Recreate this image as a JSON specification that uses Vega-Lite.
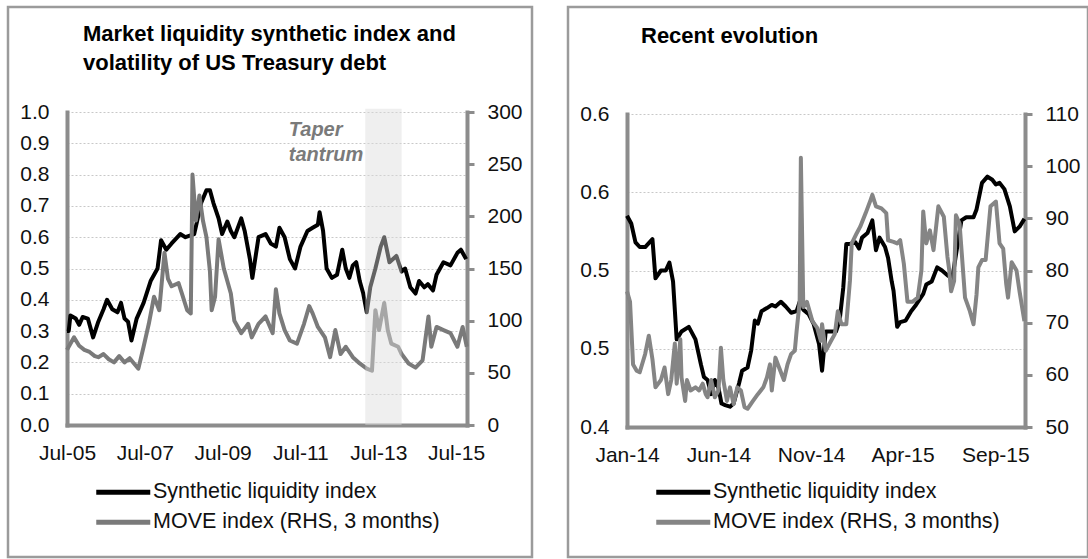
{
  "$schema": "https://vega.github.io/schema/vega-lite/v6.json",
  "padding": {"left": 6, "top": 5, "right": 1, "bottom": 3},
  "spacing": 32,
  "config": {
    "font": "Liberation Sans",
    "view": {"stroke": "#9b9b9b", "strokeWidth": 2.5},
    "axis": {"labelFont": "Liberation Sans", "labelFontSize": 21, "labelColor": "#111111", "domainColor": "#8c8c8c", "domainWidth": 4, "tickColor": "#8c8c8c", "tickWidth": 3, "labelFlush": false, "labelOverlap": false, "labelBound": false, "domainCap": "square", "grid": false},
    "legend": {"labelFont": "Liberation Sans", "labelFontSize": 21.5, "labelColor": "#111111", "labelLimit": 500, "padding": 0}
  },
  "resolve": {"scale": {"color": "independent"}, "legend": {"color": "independent"}},
  "datasets": {
    "liqL": [
      {"d":"2005-07-01","v":0.30},{"d":"2005-07-17","v":0.30},{"d":"2005-08-02","v":0.35},{"d":"2005-09-21","v":0.34},{"d":"2005-10-23","v":0.32},{"d":"2005-11-25","v":0.345},{"d":"2006-01-13","v":0.34},{"d":"2006-03-03","v":0.28},{"d":"2006-04-21","v":0.33},{"d":"2006-06-09","v":0.37},{"d":"2006-07-12","v":0.40},{"d":"2006-08-30","v":0.37},{"d":"2006-10-18","v":0.36},{"d":"2006-11-20","v":0.39},{"d":"2006-12-23","v":0.34},{"d":"2007-01-25","v":0.33},{"d":"2007-02-26","v":0.27},{"d":"2007-04-16","v":0.34},{"d":"2007-06-20","v":0.39},{"d":"2007-08-25","v":0.46},{"d":"2007-10-29","v":0.50},{"d":"2007-12-01","v":0.59},{"d":"2008-01-19","v":0.56},{"d":"2008-03-09","v":0.58},{"d":"2008-05-29","v":0.61},{"d":"2008-07-17","v":0.60},{"d":"2008-10-07","v":0.61},{"d":"2008-12-12","v":0.71},{"d":"2009-01-30","v":0.75},{"d":"2009-03-04","v":0.75},{"d":"2009-04-05","v":0.71},{"d":"2009-05-24","v":0.66},{"d":"2009-06-26","v":0.61},{"d":"2009-08-14","v":0.65},{"d":"2009-09-16","v":0.62},{"d":"2009-10-19","v":0.60},{"d":"2009-12-23","v":0.66},{"d":"2010-01-24","v":0.62},{"d":"2010-03-14","v":0.53},{"d":"2010-04-06","v":0.47},{"d":"2010-06-03","v":0.60},{"d":"2010-08-08","v":0.61},{"d":"2010-09-26","v":0.58},{"d":"2010-11-13","v":0.57},{"d":"2010-12-16","v":0.63},{"d":"2011-02-03","v":0.60},{"d":"2011-03-24","v":0.53},{"d":"2011-05-12","v":0.50},{"d":"2011-07-02","v":0.57},{"d":"2011-09-05","v":0.62},{"d":"2011-10-24","v":0.63},{"d":"2011-12-12","v":0.64},{"d":"2011-12-28","v":0.68},{"d":"2012-01-30","v":0.62},{"d":"2012-03-03","v":0.50},{"d":"2012-04-21","v":0.47},{"d":"2012-06-09","v":0.48},{"d":"2012-07-28","v":0.56},{"d":"2012-08-30","v":0.50},{"d":"2012-10-02","v":0.47},{"d":"2012-11-04","v":0.51},{"d":"2012-12-06","v":0.52},{"d":"2013-01-08","v":0.46},{"d":"2013-02-10","v":0.42},{"d":"2013-03-15","v":0.36},{"d":"2013-04-17","v":0.44},{"d":"2013-06-04","v":0.50},{"d":"2013-07-24","v":0.57},{"d":"2013-08-26","v":0.60},{"d":"2013-10-14","v":0.52},{"d":"2013-12-18","v":0.54},{"d":"2014-02-05","v":0.49},{"d":"2014-03-10","v":0.50},{"d":"2014-04-28","v":0.44},{"d":"2014-06-16","v":0.42},{"d":"2014-07-19","v":0.46},{"d":"2014-09-06","v":0.44},{"d":"2014-10-09","v":0.45},{"d":"2014-11-27","v":0.43},{"d":"2014-12-30","v":0.48},{"d":"2015-03-05","v":0.52},{"d":"2015-05-10","v":0.51},{"d":"2015-07-14","v":0.55},{"d":"2015-08-16","v":0.56},{"d":"2015-10-04","v":0.53}
    ],
    "moveL": [
      {"d":"2005-07-01","m":72},{"d":"2005-07-17","m":75},{"d":"2005-09-05","m":84},{"d":"2005-10-23","m":76},{"d":"2005-12-11","m":72},{"d":"2006-01-29","m":70},{"d":"2006-03-19","m":66},{"d":"2006-04-21","m":65},{"d":"2006-06-09","m":68},{"d":"2006-07-28","m":63},{"d":"2006-09-15","m":60},{"d":"2006-11-03","m":66},{"d":"2006-12-23","m":60},{"d":"2007-02-09","m":64},{"d":"2007-03-30","m":58},{"d":"2007-05-02","m":54},{"d":"2007-06-20","m":75},{"d":"2007-08-08","m":97},{"d":"2007-09-26","m":123},{"d":"2007-11-14","m":110},{"d":"2008-01-02","m":165},{"d":"2008-02-04","m":140},{"d":"2008-03-09","m":133},{"d":"2008-05-13","m":136},{"d":"2008-06-14","m":126},{"d":"2008-08-02","m":110},{"d":"2008-09-05","m":107},{"d":"2008-09-21","m":240},{"d":"2008-10-23","m":196},{"d":"2008-11-25","m":220},{"d":"2008-12-28","m":196},{"d":"2009-01-30","m":180},{"d":"2009-03-04","m":147},{"d":"2009-03-20","m":110},{"d":"2009-04-21","m":123},{"d":"2009-05-24","m":178},{"d":"2009-07-12","m":150},{"d":"2009-09-16","m":126},{"d":"2009-10-19","m":100},{"d":"2009-12-23","m":88},{"d":"2010-02-26","m":97},{"d":"2010-03-31","m":84},{"d":"2010-06-03","m":97},{"d":"2010-08-08","m":104},{"d":"2010-10-14","m":88},{"d":"2010-11-13","m":130},{"d":"2010-12-16","m":107},{"d":"2011-02-03","m":91},{"d":"2011-03-24","m":81},{"d":"2011-05-30","m":78},{"d":"2011-08-04","m":97},{"d":"2011-09-22","m":114},{"d":"2011-10-24","m":107},{"d":"2011-12-12","m":94},{"d":"2012-02-16","m":84},{"d":"2012-04-05","m":65},{"d":"2012-05-24","m":91},{"d":"2012-07-12","m":68},{"d":"2012-08-30","m":75},{"d":"2012-11-04","m":65},{"d":"2013-01-08","m":59},{"d":"2013-03-15","m":54},{"d":"2013-05-03","m":52},{"d":"2013-06-04","m":110},{"d":"2013-07-08","m":91},{"d":"2013-08-26","m":117},{"d":"2013-09-28","m":91},{"d":"2013-10-31","m":78},{"d":"2014-01-04","m":75},{"d":"2014-02-05","m":68},{"d":"2014-04-12","m":59},{"d":"2014-06-16","m":55},{"d":"2014-08-21","m":62},{"d":"2014-10-15","m":104},{"d":"2014-11-11","m":75},{"d":"2014-12-30","m":94},{"d":"2015-03-05","m":91},{"d":"2015-05-10","m":88},{"d":"2015-07-14","m":75},{"d":"2015-09-01","m":94},{"d":"2015-10-10","m":75}
    ],
    "band": [{"s":"2013-03-01","e":"2014-02-05"}],
    "note": [{"d":"2011-03-14","v":0.942,"t":"Taper"},{"d":"2011-03-14","v":0.863,"t":"tantrum"}],
    "liqR": [
      {"d":"2014-01-01","v":0.535},{"d":"2014-01-08","v":0.53},{"d":"2014-01-15","v":0.518},{"d":"2014-01-22","v":0.515},{"d":"2014-01-31","v":0.515},{"d":"2014-02-12","v":0.52},{"d":"2014-02-17","v":0.495},{"d":"2014-02-26","v":0.50},{"d":"2014-03-06","v":0.50},{"d":"2014-03-12","v":0.505},{"d":"2014-03-18","v":0.493},{"d":"2014-03-24","v":0.456},{"d":"2014-04-01","v":0.461},{"d":"2014-04-13","v":0.464},{"d":"2014-04-24","v":0.456},{"d":"2014-05-03","v":0.44},{"d":"2014-05-08","v":0.432},{"d":"2014-05-14","v":0.43},{"d":"2014-05-20","v":0.421},{"d":"2014-05-26","v":0.43},{"d":"2014-06-01","v":0.425},{"d":"2014-06-06","v":0.415},{"d":"2014-06-12","v":0.414},{"d":"2014-06-20","v":0.413},{"d":"2014-06-26","v":0.415},{"d":"2014-07-05","v":0.428},{"d":"2014-07-10","v":0.436},{"d":"2014-07-19","v":0.438},{"d":"2014-07-25","v":0.449},{"d":"2014-07-31","v":0.468},{"d":"2014-08-05","v":0.466},{"d":"2014-08-11","v":0.474},{"d":"2014-08-20","v":0.476},{"d":"2014-08-28","v":0.478},{"d":"2014-09-03","v":0.477},{"d":"2014-09-12","v":0.48},{"d":"2014-09-20","v":0.477},{"d":"2014-09-29","v":0.473},{"d":"2014-10-08","v":0.474},{"d":"2014-10-13","v":0.48},{"d":"2014-10-19","v":0.475},{"d":"2014-10-28","v":0.472},{"d":"2014-11-05","v":0.466},{"d":"2014-11-14","v":0.453},{"d":"2014-11-19","v":0.436},{"d":"2014-11-25","v":0.461},{"d":"2014-12-04","v":0.461},{"d":"2014-12-12","v":0.461},{"d":"2014-12-18","v":0.468},{"d":"2014-12-24","v":0.489},{"d":"2014-12-29","v":0.517},{"d":"2015-01-04","v":0.517},{"d":"2015-01-13","v":0.518},{"d":"2015-01-19","v":0.514},{"d":"2015-01-24","v":0.521},{"d":"2015-02-02","v":0.524},{"d":"2015-02-10","v":0.532},{"d":"2015-02-16","v":0.513},{"d":"2015-02-22","v":0.521},{"d":"2015-03-03","v":0.515},{"d":"2015-03-08","v":0.508},{"d":"2015-03-14","v":0.493},{"d":"2015-03-17","v":0.487},{"d":"2015-03-23","v":0.464},{"d":"2015-03-28","v":0.467},{"d":"2015-04-06","v":0.468},{"d":"2015-04-15","v":0.474},{"d":"2015-04-23","v":0.478},{"d":"2015-05-05","v":0.485},{"d":"2015-05-10","v":0.491},{"d":"2015-05-19","v":0.493},{"d":"2015-05-28","v":0.502},{"d":"2015-06-05","v":0.50},{"d":"2015-06-14","v":0.497},{"d":"2015-06-22","v":0.495},{"d":"2015-06-28","v":0.51},{"d":"2015-07-07","v":0.532},{"d":"2015-07-15","v":0.534},{"d":"2015-07-27","v":0.534},{"d":"2015-08-01","v":0.539},{"d":"2015-08-10","v":0.556},{"d":"2015-08-19","v":0.56},{"d":"2015-08-27","v":0.558},{"d":"2015-09-02","v":0.555},{"d":"2015-09-08","v":0.556},{"d":"2015-09-16","v":0.552},{"d":"2015-09-25","v":0.541},{"d":"2015-10-03","v":0.525},{"d":"2015-10-11","v":0.528},{"d":"2015-10-19","v":0.533}
    ],
    "moveR": [
      {"d":"2014-01-01","m":76},{"d":"2014-01-06","m":74},{"d":"2014-01-11","m":62},{"d":"2014-01-17","m":60.8},{"d":"2014-01-22","m":60.5},{"d":"2014-01-31","m":64},{"d":"2014-02-06","m":67.5},{"d":"2014-02-12","m":63},{"d":"2014-02-17","m":57.6},{"d":"2014-02-26","m":59},{"d":"2014-03-04","m":61.4},{"d":"2014-03-10","m":56.3},{"d":"2014-03-15","m":59},{"d":"2014-03-21","m":66},{"d":"2014-03-24","m":58.3},{"d":"2014-03-30","m":66.8},{"d":"2014-04-01","m":59.5},{"d":"2014-04-07","m":55},{"d":"2014-04-10","m":59},{"d":"2014-04-16","m":57},{"d":"2014-04-24","m":57.6},{"d":"2014-04-30","m":57},{"d":"2014-05-06","m":58.3},{"d":"2014-05-11","m":56.3},{"d":"2014-05-14","m":55.7},{"d":"2014-05-20","m":59},{"d":"2014-05-26","m":55.7},{"d":"2014-06-01","m":57},{"d":"2014-06-05","m":65.2},{"d":"2014-06-09","m":59},{"d":"2014-06-15","m":55},{"d":"2014-06-20","m":57.6},{"d":"2014-06-26","m":54.4},{"d":"2014-07-02","m":57.6},{"d":"2014-07-08","m":57},{"d":"2014-07-14","m":53.8},{"d":"2014-07-19","m":53.5},{"d":"2014-07-28","m":55},{"d":"2014-08-05","m":56.3},{"d":"2014-08-14","m":57.6},{"d":"2014-08-20","m":59.5},{"d":"2014-08-25","m":62},{"d":"2014-08-28","m":57},{"d":"2014-09-03","m":63.3},{"d":"2014-09-09","m":61.4},{"d":"2014-09-17","m":59},{"d":"2014-09-23","m":62},{"d":"2014-09-29","m":64},{"d":"2014-10-05","m":64.6},{"d":"2014-10-08","m":68.4},{"d":"2014-10-13","m":74},{"d":"2014-10-15","m":101.6},{"d":"2014-10-19","m":73},{"d":"2014-10-25","m":74},{"d":"2014-11-03","m":70.3},{"d":"2014-11-11","m":69},{"d":"2014-11-17","m":66.5},{"d":"2014-11-19","m":69.7},{"d":"2014-11-25","m":64.6},{"d":"2014-12-01","m":65.9},{"d":"2014-12-10","m":67.8},{"d":"2014-12-15","m":72.2},{"d":"2014-12-21","m":69.7},{"d":"2014-12-29","m":69.7},{"d":"2015-01-04","m":78},{"d":"2015-01-07","m":85.2},{"d":"2015-01-15","m":87.1},{"d":"2015-01-21","m":88.4},{"d":"2015-01-30","m":91},{"d":"2015-02-07","m":93.5},{"d":"2015-02-10","m":94.5},{"d":"2015-02-16","m":92.3},{"d":"2015-02-25","m":91.9},{"d":"2015-03-05","m":91},{"d":"2015-03-08","m":85.8},{"d":"2015-03-17","m":85.5},{"d":"2015-03-23","m":85.2},{"d":"2015-03-28","m":85.8},{"d":"2015-04-03","m":81.3},{"d":"2015-04-09","m":74},{"d":"2015-04-17","m":74},{"d":"2015-04-26","m":74.8},{"d":"2015-05-02","m":80},{"d":"2015-05-05","m":91.3},{"d":"2015-05-10","m":85.2},{"d":"2015-05-16","m":87.7},{"d":"2015-05-22","m":83.9},{"d":"2015-05-30","m":92.3},{"d":"2015-06-08","m":90.3},{"d":"2015-06-14","m":82.6},{"d":"2015-06-17","m":80},{"d":"2015-06-20","m":76},{"d":"2015-06-25","m":78},{"d":"2015-06-28","m":90.6},{"d":"2015-07-04","m":89},{"d":"2015-07-13","m":74.8},{"d":"2015-07-21","m":72.2},{"d":"2015-07-27","m":69.7},{"d":"2015-08-01","m":75.4},{"d":"2015-08-04","m":80.6},{"d":"2015-08-10","m":82},{"d":"2015-08-16","m":82},{"d":"2015-08-24","m":92.3},{"d":"2015-09-02","m":93.2},{"d":"2015-09-08","m":85.2},{"d":"2015-09-14","m":84.2},{"d":"2015-09-19","m":77.4},{"d":"2015-09-22","m":74.8},{"d":"2015-09-28","m":81.6},{"d":"2015-10-06","m":80},{"d":"2015-10-11","m":76},{"d":"2015-10-19","m":70.3}
    ]
  },
  "hconcat": [
    {
      "width": 524,
      "height": 550,
      "title": {"text": ["Market liquidity synthetic index and", "volatility of US Treasury debt"], "anchor": "start", "frame": "group", "orient": "top", "dx": 75, "offset": -68, "fontSize": 22, "fontWeight": "bold", "font": "Liberation Sans", "lineHeight": 29, "baseline": "top", "color": "#000000"},
      "resolve": {"scale": {"y": "independent"}},
      "layer": [
        {
          "layer": [
            {
              "data": {"name": "liqL"},
              "mark": {"type": "line", "strokeWidth": 4, "strokeJoin": "round"},
              "encoding": {
                "x": {"field": "d", "type": "temporal",
                  "scale": {"type": "utc", "domain": [{"year": 2005, "month": 7, "date": 1, "utc": true}, {"year": 2015, "month": 10, "date": 12, "utc": true}], "range": [59, 459], "nice": false},
                  "axis": {"orient": "bottom", "offset": -132, "title": null, "ticks": false, "labelPadding": 17, "format": "%b-%y",
                    "values": [{"year": 2005, "month": 7, "date": 1, "utc": true}, {"year": 2007, "month": 7, "date": 1, "utc": true}, {"year": 2009, "month": 7, "date": 1, "utc": true}, {"year": 2011, "month": 7, "date": 1, "utc": true}, {"year": 2013, "month": 7, "date": 1, "utc": true}, {"year": 2015, "month": 7, "date": 1, "utc": true}]}},
                "y": {"field": "v", "type": "quantitative",
                  "scale": {"domain": [0, 1], "range": [418, 105], "nice": false, "zero": false},
                  "axis": {"orient": "left", "offset": -59, "title": null, "ticks": false, "labelPadding": 18, "format": ".1f", "values": [0, 0.1, 0.2, 0.3, 0.4, 0.5, 0.6, 0.7, 0.8, 0.9, 1.0], "grid": true, "gridColor": "#c8c8c8", "gridDash": [2, 2], "gridWidth": 1}},
                "color": {"datum": "Synthetic liquidity index",
                  "scale": {"domain": ["Synthetic liquidity index", "MOVE index (RHS, 3 months)"], "range": ["#000000", "#7a7a7a"]},
                  "legend": {"orient": "none", "legendX": 104.5, "legendY": 474.5, "direction": "vertical", "title": null, "symbolType": "M-5.4,0H5.4", "symbolSize": 100, "symbolStrokeWidth": 5, "labelOffset": 19, "rowPadding": 7}}
              }
            },
            {
              "mark": {"type": "rule", "color": "#8c8c8c", "strokeWidth": 4, "strokeCap": "square"},
              "encoding": {
                "x": {"datum": {"year": 2005, "month": 7, "date": 1, "utc": true}, "type": "temporal"},
                "x2": {"datum": {"year": 2015, "month": 10, "date": 12, "utc": true}},
                "y": {"datum": 1, "type": "quantitative"}
              }
            }
          ]
        },
        {
          "data": {"name": "moveL"},
          "mark": {"type": "line", "strokeWidth": 4, "strokeJoin": "round"},
          "encoding": {
            "x": {"field": "d", "type": "temporal"},
            "y": {"field": "m", "type": "quantitative",
              "scale": {"domain": [0, 300], "range": [418, 105], "nice": false, "zero": false},
              "axis": {"orient": "right", "offset": -65, "title": null, "ticks": true, "tickSize": 7, "labelPadding": 13, "values": [0, 50, 100, 150, 200, 250, 300], "grid": false}},
            "color": {"datum": "MOVE index (RHS, 3 months)"}
          }
        },
        {
          "layer": [
            {
              "data": {"name": "band"},
              "mark": {"type": "rect", "color": "#dcdcdc", "opacity": 0.45},
              "encoding": {
                "x": {"field": "s", "type": "temporal"},
                "x2": {"field": "e"},
                "y": {"datum": 0, "type": "quantitative", "scale": {"domain": [0, 1], "range": [418, 105], "nice": false, "zero": false}, "axis": null},
                "y2": {"datum": 1.01}
              }
            },
            {
              "data": {"name": "note"},
              "mark": {"type": "text", "align": "left", "baseline": "middle", "fontSize": 20, "fontWeight": "bold", "fontStyle": "italic", "color": "#7a7a7a", "font": "Liberation Sans"},
              "encoding": {
                "x": {"field": "d", "type": "temporal"},
                "y": {"field": "v", "type": "quantitative"},
                "text": {"field": "t"}
              }
            }
          ]
        }
      ]
    },
    {
      "width": 520,
      "height": 550,
      "title": {"text": "Recent evolution", "anchor": "start", "frame": "group", "orient": "top", "dx": 73, "offset": -41, "fontSize": 22, "fontWeight": "bold", "font": "Liberation Sans", "baseline": "top", "color": "#000000"},
      "resolve": {"scale": {"y": "independent"}},
      "layer": [
        {
          "layer": [
            {
              "data": {"name": "liqR"},
              "mark": {"type": "line", "strokeWidth": 4, "strokeJoin": "round"},
              "encoding": {
                "x": {"field": "d", "type": "temporal",
                  "scale": {"type": "utc", "domain": [{"year": 2014, "month": 1, "date": 1, "utc": true}, {"year": 2015, "month": 10, "date": 20, "utc": true}], "range": [59, 457], "nice": false},
                  "axis": {"orient": "bottom", "offset": -130, "title": null, "ticks": false, "labelPadding": 17, "format": "%b-%y",
                    "values": [{"year": 2014, "month": 1, "date": 1, "utc": true}, {"year": 2014, "month": 6, "date": 1, "utc": true}, {"year": 2014, "month": 11, "date": 1, "utc": true}, {"year": 2015, "month": 4, "date": 1, "utc": true}, {"year": 2015, "month": 9, "date": 1, "utc": true}]}},
                "y": {"field": "v", "type": "quantitative",
                  "scale": {"domain": [0.4, 0.6], "range": [420, 107], "nice": false, "zero": false},
                  "axis": {"orient": "left", "offset": -59, "title": null, "ticks": false, "labelPadding": 18, "format": ".1f", "values": [0.4, 0.45, 0.5, 0.55, 0.6], "grid": true, "gridColor": "#c8c8c8", "gridDash": [2, 2], "gridWidth": 1}},
                "color": {"datum": "Synthetic liquidity index",
                  "scale": {"domain": ["Synthetic liquidity index", "MOVE index (RHS, 3 months)"], "range": ["#000000", "#858585"]},
                  "legend": {"orient": "none", "legendX": 104.5, "legendY": 474.5, "direction": "vertical", "title": null, "symbolType": "M-5.4,0H5.4", "symbolSize": 100, "symbolStrokeWidth": 5, "labelOffset": 19, "rowPadding": 7}}
              }
            },
            {
              "mark": {"type": "rule", "color": "#8c8c8c", "strokeWidth": 4, "strokeCap": "square"},
              "encoding": {
                "x": {"datum": {"year": 2014, "month": 1, "date": 1, "utc": true}, "type": "temporal"},
                "x2": {"datum": {"year": 2015, "month": 10, "date": 20, "utc": true}},
                "y": {"datum": 0.6, "type": "quantitative"}
              }
            }
          ]
        },
        {
          "data": {"name": "moveR"},
          "mark": {"type": "line", "strokeWidth": 4, "strokeJoin": "round"},
          "encoding": {
            "x": {"field": "d", "type": "temporal"},
            "y": {"field": "m", "type": "quantitative",
              "scale": {"domain": [50, 110], "range": [420, 107], "nice": false, "zero": false},
              "axis": {"orient": "right", "offset": -63, "title": null, "ticks": true, "tickSize": 7, "labelPadding": 13, "values": [50, 60, 70, 80, 90, 100, 110], "grid": false}},
            "color": {"datum": "MOVE index (RHS, 3 months)"}
          }
        }
      ]
    }
  ]
}
